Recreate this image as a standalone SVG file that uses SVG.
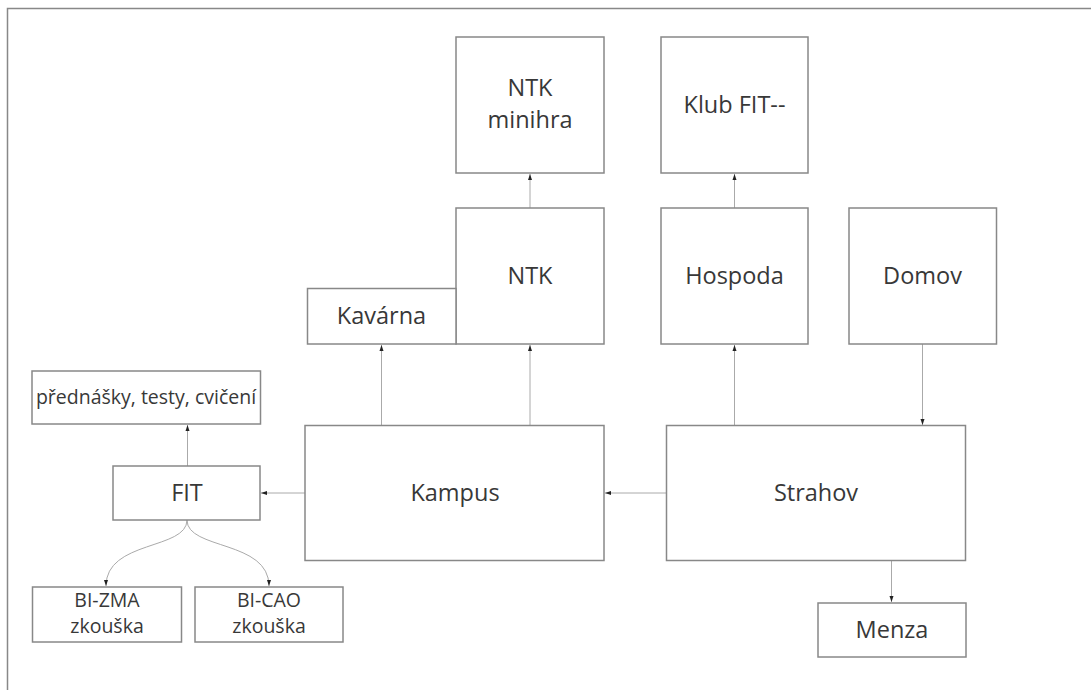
<svg xmlns="http://www.w3.org/2000/svg" width="1091" height="690" viewBox="0 0 1091 690">
<defs>
<marker id="arr" viewBox="0 0 6 6" refX="6" refY="3" markerWidth="6" markerHeight="6" markerUnits="userSpaceOnUse" orient="auto">
<path d="M0,1 L6,3 L0,5 Z" fill="#222"/>
</marker>
<style>
.box{fill:#fff;stroke:#888;stroke-width:1.5}
.t{font-family:"Open Sans","Liberation Sans",sans-serif;font-size:23.5px;fill:#383838;text-anchor:middle}
.s{font-size:19.5px}
.c{fill:none;stroke:#aaa;stroke-width:1;marker-end:url(#arr)}
</style>
</defs>
<rect width="1091" height="690" fill="#fff"/>
<path d="M7.5,690 V8.5 H1091" fill="none" stroke="#888" stroke-width="1.5"/>
<g id="connectors">
<path class="c" d="M530,208 V174"/>
<path class="c" d="M734.5,208 V174"/>
<path class="c" d="M381.5,425 V345"/>
<path class="c" d="M530,425 V345"/>
<path class="c" d="M734.5,425 V345"/>
<path class="c" d="M922.5,344 V425"/>
<path class="c" d="M666,493 H605"/>
<path class="c" d="M305,493 H261"/>
<path class="c" d="M187.5,466 V425"/>
<path class="c" d="M891.5,561 V602"/>
<path class="c" d="M187,520 C187,550 106,540 106,586"/>
<path class="c" d="M187,520 C187,550 269,540 269,586"/>
</g>
<g id="ntk-minihra"><rect class="box" x="456" y="37" width="148" height="136"/><text class="t" x="530" y="96">NTK</text><text class="t" x="530" y="128">minihra</text></g>
<g id="klub-fit"><rect class="box" x="661" y="37" width="147" height="136"/><text class="t" x="734.5" y="113">Klub FIT--</text></g>
<g id="ntk"><rect class="box" x="456" y="208" width="148" height="136"/><text class="t" x="530" y="284">NTK</text></g>
<g id="kavarna"><rect class="box" x="307.5" y="288.5" width="148.5" height="55.5"/><text class="t" x="381.5" y="324">Kavárna</text></g>
<g id="hospoda"><rect class="box" x="661" y="208" width="147" height="136"/><text class="t" x="734.5" y="284">Hospoda</text></g>
<g id="domov"><rect class="box" x="849" y="208" width="147.5" height="136"/><text class="t" x="922.5" y="284">Domov</text></g>
<g id="kampus"><rect class="box" x="305" y="425.5" width="299" height="135"/><text class="t" x="455" y="501">Kampus</text></g>
<g id="strahov"><rect class="box" x="666.5" y="425.5" width="299" height="135"/><text class="t" x="816" y="501">Strahov</text></g>
<g id="fit"><rect class="box" x="113" y="466" width="147" height="54"/><text class="t" x="187" y="501">FIT</text></g>
<g id="prednasky"><rect class="box" x="32" y="371" width="228.5" height="53"/><text class="t s" x="146" y="404">přednášky, testy, cvičení</text></g>
<g id="bi-zma"><rect class="box" x="32.5" y="587" width="149" height="55"/><text class="t s" x="107" y="607">BI-ZMA</text><text class="t s" x="107" y="633">zkouška</text></g>
<g id="bi-cao"><rect class="box" x="195" y="587" width="148" height="55"/><text class="t s" x="269" y="607">BI-CAO</text><text class="t s" x="269" y="633">zkouška</text></g>
<g id="menza"><rect class="box" x="818" y="603" width="148" height="54"/><text class="t" x="892" y="638">Menza</text></g>
</svg>
